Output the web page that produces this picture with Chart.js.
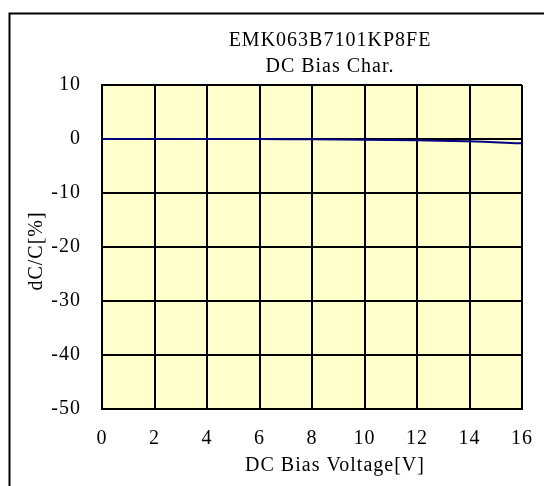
<!DOCTYPE html>
<html>
<head>
<meta charset="utf-8">
<script src="https://cdn.jsdelivr.net/npm/chart.js@4"></script>
<style>
  html, body { margin: 0; padding: 0; background: #fff; }
  canvas { display: block; }
</style>
</head>
<body>
<canvas id="c" width="544" height="486"></canvas>
<script>
const chartTitle = ['EMK063B7101KP8FE', 'DC Bias Char.'];
const xAxisTitle = 'DC Bias Voltage[V]';
const yAxisTitle = 'dC/C[%]';
const voltages = [0, 2, 4, 6, 8, 10, 12, 14, 16];
const dcBias = [0, 0, 0, -0.02, -0.06, -0.13, -0.25, -0.42, -0.8];
const xTicks = [0, 2, 4, 6, 8, 10, 12, 14, 16];
const yTicks = [10, 0, -10, -20, -30, -40, -50];

const FONT = '"Liberation Serif", "Times New Roman", serif';

const spacingPlugin = {
  id: 'spacing',
  beforeUpdate(chart) { chart.ctx.letterSpacing = '1px'; },
  beforeDraw(chart) {
    const ctx = chart.ctx;
    ctx.letterSpacing = '1px';
    const a = chart.chartArea;
    ctx.save();
    ctx.fillStyle = '#FFFFCC';
    ctx.fillRect(a.left, a.top, a.right - a.left, a.bottom - a.top);
    ctx.strokeStyle = '#000';
    ctx.lineWidth = 2;
    ctx.strokeRect(9.5, 13.5, 600, 600);
    ctx.restore();
  },
  afterDraw(chart) {
    const ctx = chart.ctx;
    ctx.save();
    ctx.letterSpacing = '1px';
    ctx.fillStyle = '#000';
    ctx.font = '20px ' + FONT;
    ctx.textAlign = 'center';
    ctx.textBaseline = 'middle';
    ctx.fillText(chartTitle[0], 330, 41);
    ctx.fillText(chartTitle[1], 330, 67);
    ctx.fillText(xAxisTitle, 335, 466);
    ctx.translate(37, 251);
    ctx.rotate(-Math.PI / 2);
    ctx.fillText(yAxisTitle, 0, 0);
    ctx.restore();
  }
};

new Chart(document.getElementById('c'), {
  type: 'line',
  data: {
    datasets: [{
      data: voltages.map((v, i) => ({ x: v, y: dcBias[i] })),
      borderColor: '#000080',
      borderWidth: 2,
      pointRadius: 0,
      tension: 0.3,
      fill: false
    }]
  },
  options: {
    responsive: false,
    animation: false,
    layout: { padding: { top: 85, right: 22, left: 0, bottom: 0 } },
    plugins: { legend: { display: false }, tooltip: { enabled: false }, title: { display: false } },
    scales: {
      x: {
        type: 'linear',
        min: 0, max: 16,
        afterBuildTicks(s) { s.ticks = xTicks.map(v => ({ value: v })); },
        afterFit(s) { s.height = 77; s.paddingLeft = 0; s.paddingRight = 0; },
        grid: { color: '#000', lineWidth: 2, drawTicks: false },
        border: { color: '#000', width: 2 },
        ticks: { color: '#000', font: { family: FONT, size: 20 }, padding: 18, maxRotation: 0, autoSkip: false }
      },
      y: {
        type: 'linear',
        min: -50, max: 10,
        afterBuildTicks(s) { s.ticks = yTicks.slice().reverse().map(v => ({ value: v })); },
        afterFit(s) { s.width = 102; s.paddingTop = 0; s.paddingBottom = 0; },
        grid: { color: '#000', lineWidth: 2, drawTicks: false },
        border: { color: '#000', width: 2 },
        ticks: { color: '#000', font: { family: FONT, size: 20 }, padding: 21, autoSkip: false }
      }
    }
  },
  plugins: [spacingPlugin]
});
</script>
</body>
</html>
